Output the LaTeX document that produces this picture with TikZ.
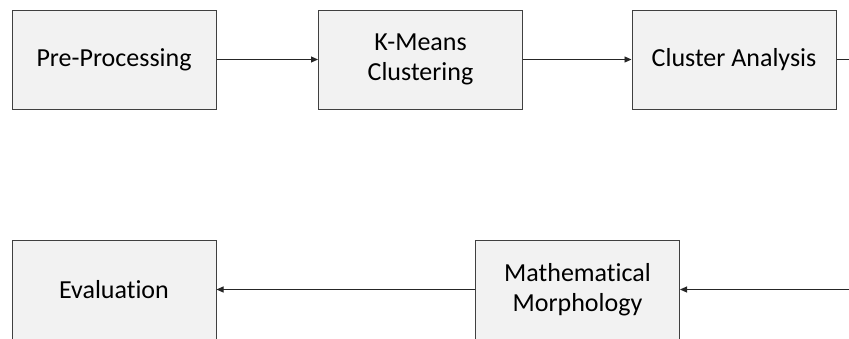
\documentclass[tikz,border=0pt]{standalone}
\usepackage{fontspec}
\setmainfont{Carlito}[Ligatures=CommonOff]
\usetikzlibrary{arrows.meta}

\definecolor{boxfill}{HTML}{F2F2F2}
\definecolor{boxline}{HTML}{404040}

\tikzset{
    stage/.style={draw=boxline, fill=boxfill, line width=1pt,
        minimum width=204pt, minimum height=99pt, inner sep=0pt,
        align=center, font=\fontsize{26}{30}\selectfont},
    flow/.style={-{Triangle[length=7pt,width=6pt]}, draw=black!85, line width=0.9pt}
}

\begin{document}
\begin{tikzpicture}[x=1pt,y=-1pt]
    \useasboundingbox (0,0) rectangle (849,338);
    \clip (0,0) rectangle (849,338);

    % top row
    \node[stage] (pre)     at (114,59.5)   {Pre-Processing};
    \node[stage] (kmeans)  at (420.5,59.5) {K-Means\\Clustering};
    \node[stage] (cluster) at (734,59.5)   {Cluster Analysis};

    % bottom row
    \node[stage] (eval)    at (114,289.5)   {Evaluation};
    \node[stage] (morph)   at (577.5,289.5) {Mathematical\\Morphology};

    \coordinate (outR) at (852,59.5);
    \coordinate (inR)  at (852,289.5);

    \draw[flow] (pre) -- (kmeans);
    \draw[flow] (kmeans) -- (cluster);
    \draw[line width=0.9pt, draw=black!85] (cluster) -- (outR);
    \draw[flow] (inR) -- (morph);
    \draw[flow] (morph) -- (eval);

\end{tikzpicture}
\end{document}
